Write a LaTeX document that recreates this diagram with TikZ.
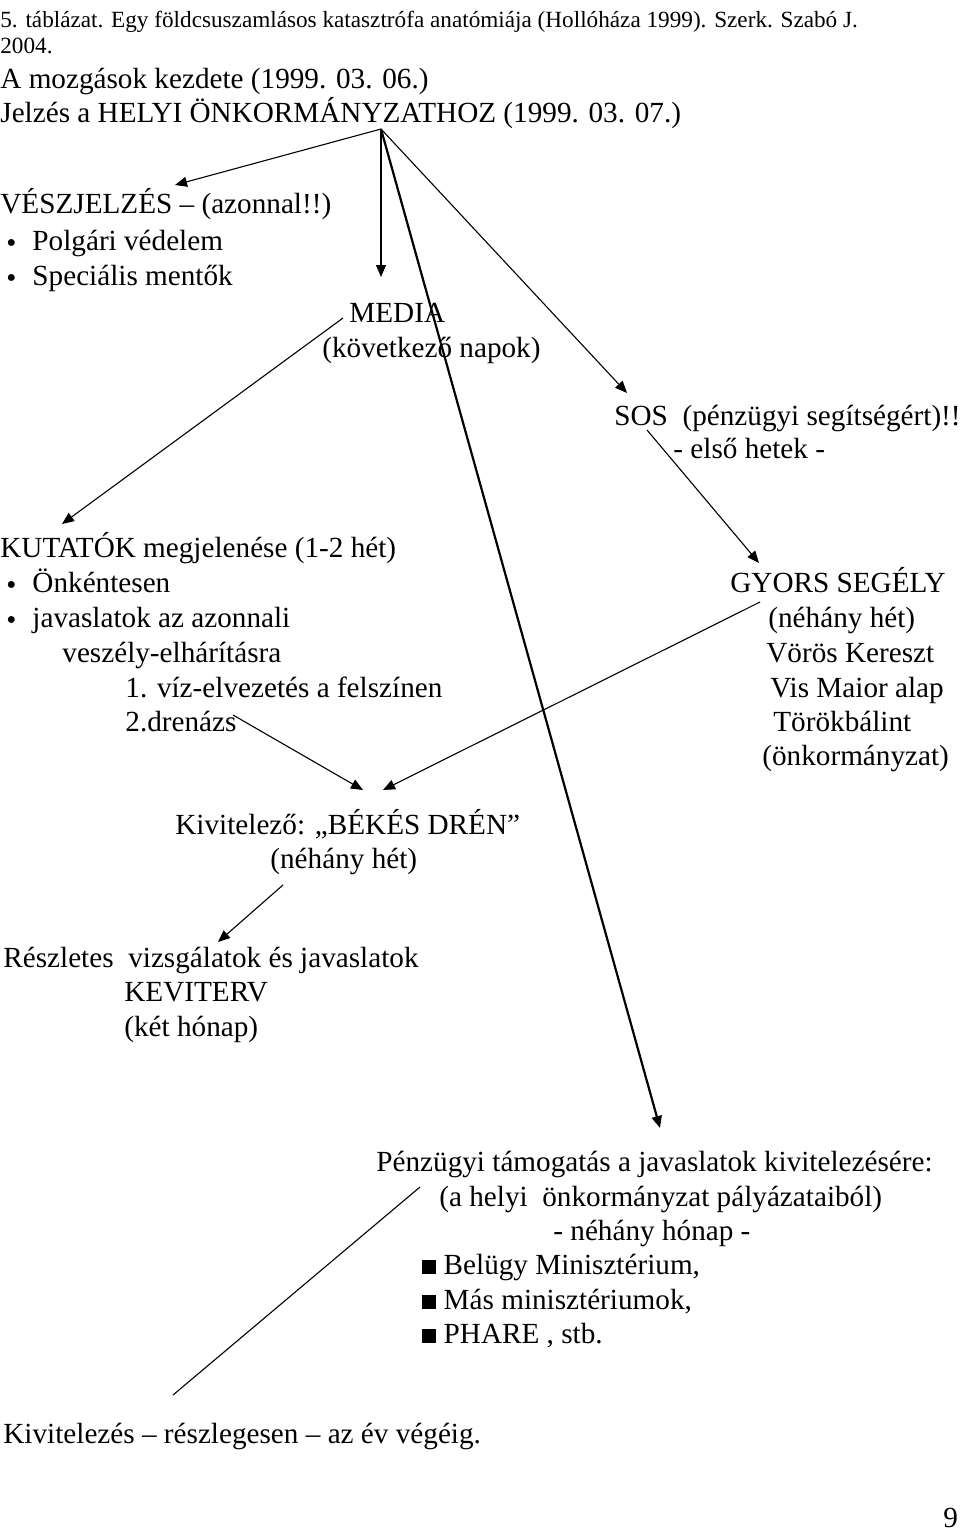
\documentclass[tikz,border=0pt]{standalone}
\usepackage{fontspec}
\setmainfont{Liberation Serif}
\usetikzlibrary{arrows.meta}

\tikzset{
  txt/.style={anchor=base west, inner sep=0pt, font=\fontsize{14.6}{17}\selectfont},
  captxt/.style={anchor=base west, inner sep=0pt, font=\fontsize{11.6}{13}\selectfont},
  arr/.style={-{Triangle[length=6pt,width=5pt]}, line width=0.55pt},
  bigarr/.style={-{Triangle[length=6pt,width=5pt]}, line width=1.1pt},
}
\newcommand{\blt}{{\Large\raisebox{-1pt}{\textbullet}}}
\newcommand{\sqb}{\rule{7pt}{7pt}}

\begin{document}
\begin{tikzpicture}[x=0.5pt,y=-0.5pt]
  \useasboundingbox (0,0) rectangle (960,1537);
  % header
  \node[captxt] (cap1) at (0,27) {5. táblázat. Egy földcsuszamlásos katasztrófa anatómiája (Hollóháza 1999). Szerk. Szabó J.};
  \node[captxt] (cap2) at (0,53) {2004.};
  \node[txt] (start) at (0,88) {A mozgások kezdete (1999. 03. 06.)};
  \node[txt] (jelzes) at (0,122) {Jelzés a HELYI ÖNKORMÁNYZATHOZ (1999. 03. 07.)};
  \coordinate (J) at (381,129);
  % vészjelzés
  \node[txt] (vesz) at (0,213) {VÉSZJELZÉS -- (azonnal!!)};
  \node[txt] (vesz1) at (6,250) {\blt\hspace{8pt}Polgári védelem};
  \node[txt] (vesz2) at (6,285) {\blt\hspace{8pt}Speciális mentők};
  % media
  \node[txt] (media) at (349,322) {MEDIA};
  \node[txt] (media2) at (322,357) {(következő napok)};
  % sos
  \node[txt] (sos) at (614,425) {SOS\ \ (pénzügyi segítségért)!!};
  \node[txt] (sos2) at (673,458) {- első hetek -};
  % kutatók
  \node[txt] (kut) at (0,557) {KUTATÓK megjelenése (1-2 hét)};
  \node[txt] (kut1) at (6,592) {\blt\hspace{8pt}Önkéntesen};
  \node[txt] (kut2) at (6,627) {\blt\hspace{8pt}javaslatok az azonnali};
  \node[txt] (kut3) at (62,662) {veszély-elhárításra};
  \node[txt] (kut4) at (125,697) {1. víz-elvezetés a felszínen};
  \node[txt] (kut5) at (125,731) {2.drenázs};
  % gyors segély
  \node[txt] (gyors) at (730,592) {GYORS SEGÉLY};
  \node[txt] (gyors1) at (768,627) {(néhány hét)};
  \node[txt] (gyors2) at (766,662) {Vörös Kereszt};
  \node[txt] (gyors3) at (770,697) {Vis Maior alap};
  \node[txt] (gyors4) at (773,731) {Törökbálint};
  \node[txt] (gyors5) at (762,765) {(önkormányzat)};
  % kivitelező
  \node[txt] (kiv) at (175,834) {Kivitelező: „BÉKÉS DRÉN''};
  \node[txt] (kiv2) at (270,868) {(néhány hét)};
  \node[txt] (resz) at (3,967) {Részletes\ \ vizsgálatok és javaslatok};
  \node[txt] (resz2) at (124,1001) {KEVITERV};
  \node[txt] (resz3) at (124,1036) {(két hónap)};
  % pénzügyi támogatás
  \node[txt] (penz) at (376,1171) {Pénzügyi támogatás a javaslatok kivitelezésére:};
  \node[txt] (penz1) at (439,1206) {(a helyi\ \ önkormányzat pályázataiból)};
  \node[txt] (penz2) at (553,1240) {- néhány hónap -};
  \node[txt] (penz3) at (422,1274) {\sqb\ Belügy Minisztérium,};
  \node[txt] (penz4) at (422,1309) {\sqb\ Más minisztériumok,};
  \node[txt] (penz5) at (422,1343) {\sqb\ PHARE , stb.};
  \node[txt] (vege) at (3,1443) {Kivitelezés -- részlegesen -- az év végéig.};
  \node[txt] (page) at (943,1527) {9};
  % connector ends
  \coordinate (vtip) at (175,185);
  \coordinate (mtip) at (381,277);
  \coordinate (stip) at (627,393);
  \coordinate (ptip) at (660,1128);
  \coordinate (mfrom) at (343,318);
  \coordinate (ktip) at (62,524);
  \coordinate (sfrom) at (647,430);
  \coordinate (gtip) at (759,563);
  \coordinate (dfrom) at (233,715);
  \coordinate (dtip) at (363,790);
  \coordinate (gfrom) at (760,602);
  \coordinate (g2tip) at (383,790);
  \coordinate (bfrom) at (283,885);
  \coordinate (btip) at (218,942);
  \coordinate (pfrom) at (420,1187);
  \coordinate (pto) at (173,1395);
  % connectors
  \draw[arr] (J) -- (vtip);
  \draw[arr] (J) -- (mtip);
  \draw[arr] (J) -- (stip);
  \draw[bigarr] (J) -- (ptip);
  \draw[arr] (mfrom) -- (ktip);
  \draw[arr] (sfrom) -- (gtip);
  \draw[arr] (dfrom) -- (dtip);
  \draw[arr] (gfrom) -- (g2tip);
  \draw[arr] (bfrom) -- (btip);
  \draw[line width=0.55pt] (pfrom) -- (pto);
\end{tikzpicture}
\end{document}
